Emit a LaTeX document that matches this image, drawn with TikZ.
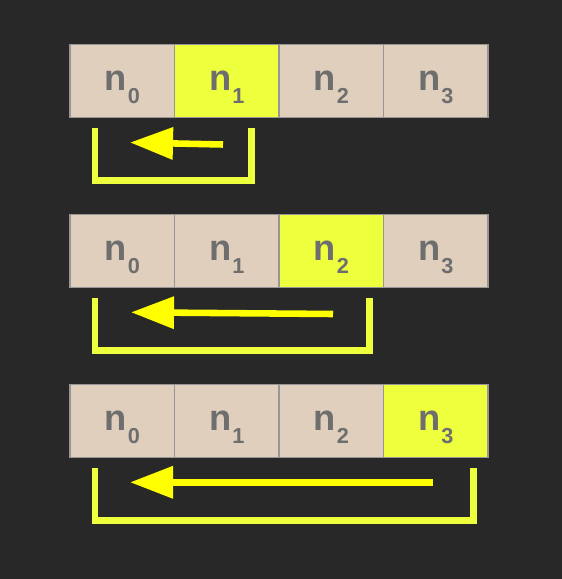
\documentclass[tikz,border=0pt]{standalone}
\usepackage{fontspec}
\setmainfont{Liberation Sans}
\usetikzlibrary{arrows.meta}

\newcommand{\nsub}[1]{n\hspace{1pt}\raisebox{-11pt}{\fontsize{18.5}{18.5}\selectfont #1}}

\begin{document}
\begin{tikzpicture}[x=0.03cm,y=-0.03cm]
	\definecolor{bgdark}{RGB}{40,40,40}
	\definecolor{cellbeige}{RGB}{223,207,188}
	\definecolor{cellhi}{RGB}{238,255,62}
	\definecolor{txtgrey}{RGB}{110,110,110}
	\definecolor{bordgrey}{RGB}{150,150,150}
	\definecolor{arryel}{RGB}{255,255,0}
	\tikzset{
		cell/.style={
			draw=bordgrey, line width=1.2pt, fill=cellbeige,
			minimum width=3.135cm, minimum height=2.19cm, inner sep=0pt,
			text=txtgrey, text depth=0pt,
			font=\fontsize{31}{31}\selectfont\bfseries
		},
		hicell/.style={cell, fill=cellhi},
		brk/.style={
			draw=cellhi, line width=5.3pt, line join=miter
		},
		mv/.style={
			-{Triangle[length=1.29cm,width=0.93cm]},
			draw=arryel, line width=5.6pt
		}
	}

	\fill[bgdark] (0,0) rectangle (562,579);
	\useasboundingbox (0,0) rectangle (562,579);

	% ======= row 1: n1 is picked =======
	\node[cell]   (r1n0) at (122.25,81) {\nsub{0}};
	\node[hicell] (r1n1) at (226.75,81) {\nsub{1}};
	\node[cell]   (r1n2) at (331.25,81) {\nsub{2}};
	\node[cell]   (r1n3) at (435.75,81) {\nsub{3}};

	\coordinate (b1a) at (95,128);
	\coordinate (b1b) at (95,180.5);
	\coordinate (b1c) at (251.5,180.5);
	\coordinate (b1d) at (251.5,128);
	\draw[brk] (b1a) -- (b1b) -- (b1c) -- (b1d);

	\coordinate (t1) at (223,144.5);
	\coordinate (h1) at (130,142.5);
	\draw[mv] (t1) -- (h1);

	% ======= row 2: n2 is picked =======
	\node[cell]   (r2n0) at (122.25,251) {\nsub{0}};
	\node[cell]   (r2n1) at (226.75,251) {\nsub{1}};
	\node[hicell] (r2n2) at (331.25,251) {\nsub{2}};
	\node[cell]   (r2n3) at (435.75,251) {\nsub{3}};

	\coordinate (b2a) at (95,298);
	\coordinate (b2b) at (95,350.5);
	\coordinate (b2c) at (369.5,350.5);
	\coordinate (b2d) at (369.5,298);
	\draw[brk] (b2a) -- (b2b) -- (b2c) -- (b2d);

	\coordinate (t2) at (333,314);
	\coordinate (h2) at (131,312.3);
	\draw[mv] (t2) -- (h2);

	% ======= row 3: n3 is picked =======
	\node[cell]   (r3n0) at (122.25,421) {\nsub{0}};
	\node[cell]   (r3n1) at (226.75,421) {\nsub{1}};
	\node[cell]   (r3n2) at (331.25,421) {\nsub{2}};
	\node[hicell] (r3n3) at (435.75,421) {\nsub{3}};

	\coordinate (b3a) at (95,468);
	\coordinate (b3b) at (95,520.5);
	\coordinate (b3c) at (473.5,520.5);
	\coordinate (b3d) at (473.5,468);
	\draw[brk] (b3a) -- (b3b) -- (b3c) -- (b3d);

	\coordinate (t3) at (433,482.3);
	\coordinate (h3) at (130,482.3);
	\draw[mv] (t3) -- (h3);

\end{tikzpicture}
\end{document}
